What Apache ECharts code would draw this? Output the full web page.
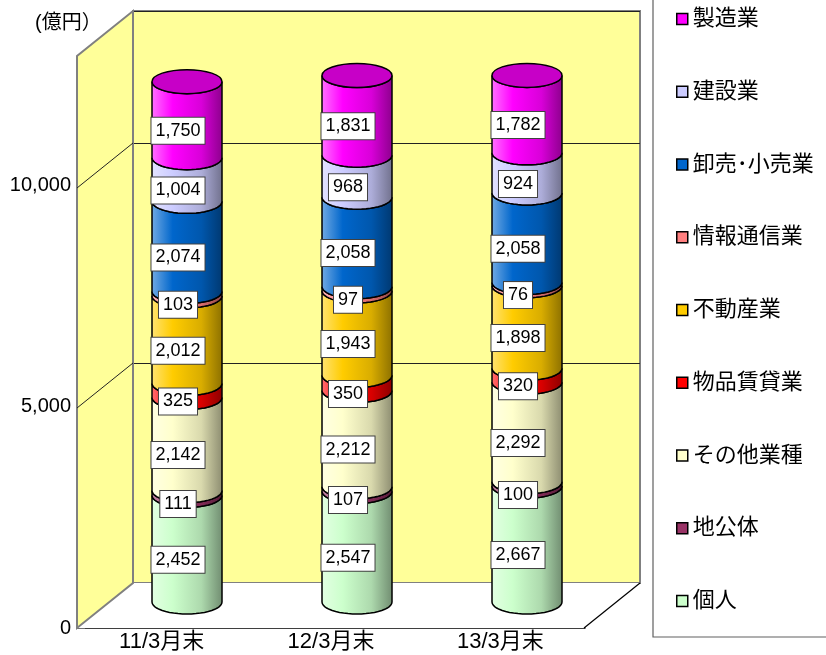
<!DOCTYPE html>
<html>
<head>
<meta charset="utf-8">
<script src="https://cdn.jsdelivr.net/npm/echarts@6/dist/echarts.min.js"></script>
<style>
  html, body { margin: 0; padding: 0; background: #fff; }
  #chart { width: 826px; height: 655px; }
</style>
</head>
<body>
<div id="chart"></div>
<script>
// 年度末ごとの貸出残高（億円）
var categories = ['11/3月末', '12/3月末', '13/3月末'];
var kojin    = [2452, 2547, 2667];   // 個人
var chikotai = [111, 107, 100];      // 地公体
var sonota   = [2142, 2212, 2292];   // その他業種
var buppin   = [325, 350, 320];      // 物品賃貸業
var fudosan  = [2012, 1943, 1898];   // 不動産業
var joho     = [103, 97, 76];        // 情報通信業
var oroshi   = [2074, 2058, 2058];   // 卸売・小売業
var kensetsu = [1004, 968, 924];     // 建設業
var seizo    = [1750, 1831, 1782];   // 製造業
var yTicks = [0, 5000, 10000];

// 下から積む順
var stackNames = ['個人', '地公体', 'その他業種', '物品賃貸業', '不動産業', '情報通信業', '卸売･小売業', '建設業', '製造業'];
var stackData = [kojin, chikotai, sonota, buppin, fudosan, joho, oroshi, kensetsu, seizo];
var stackColors = ['#ccffcc', '#993366', '#ffffcc', '#ff0000', '#ffcc00', '#ff8080', '#0066cc', '#ccccff', '#ff00ff'];

var FONT = '"Liberation Sans", Arial, "Noto Sans CJK JP", sans-serif';
var DX = -56, DY = 45;   // 奥行き
var RX = 35, RY = 12;

function mix(hex, t) {
  var n = parseInt(hex.slice(1), 16);
  var r = n >> 16, g = (n >> 8) & 255, b = n & 255;
  var to = t > 0 ? 255 : 0;
  var a = Math.abs(t);
  r = Math.round(r + (to - r) * a);
  g = Math.round(g + (to - g) * a);
  b = Math.round(b + (to - b) * a);
  return 'rgb(' + r + ',' + g + ',' + b + ')';
}

function fmt(v) {
  return v.toLocaleString('en-US');
}

var myChart = echarts.init(document.getElementById('chart'), null, { renderer: 'canvas' });

// 壁と床
var wallSeries = {
  type: 'custom',
  xAxisIndex: 0,
  yAxisIndex: 0,
  silent: true,
  z: 1,
  data: [[0, 0]],
  renderItem: function (params, api) {
    var cs = params.coordSys;
    var x0 = cs.x, x1 = cs.x + cs.width;
    var yTop = cs.y, yBot = cs.y + cs.height;
    var kids = [];
    kids.push({
      type: 'polygon',
      shape: { points: [[x0 + DX, yBot + DY], [x1 + DX, yBot + DY], [x1, yBot], [x0, yBot]] },
      style: { fill: '#fff', stroke: null }
    });
    kids.push({
      type: 'line',
      shape: { x1: x1 + DX, y1: yBot + DY, x2: x1, y2: yBot },
      style: { stroke: '#000', lineWidth: 1.2 }
    });
    kids.push({
      type: 'polygon',
      shape: { points: [[x0 + DX, yBot + DY], [x0 + DX, yTop + DY], [x0, yTop], [x0, yBot]] },
      style: { fill: '#ffff99', stroke: '#808080', lineWidth: 2 }
    });
    yTicks.forEach(function (v) {
      if (v === 0) return;
      var y = api.coord([0, v])[1];
      kids.push({
        type: 'line',
        shape: { x1: x0 + DX, y1: y + DY, x2: x0, y2: y },
        style: { stroke: '#222', lineWidth: 1 }
      });
    });
    return { type: 'group', children: kids };
  }
};

function makeCylinder(k) {
  var vals = stackData[k];
  var data = categories.map(function (c, i) {
    var lo = 0;
    for (var j = 0; j < k; j++) lo += stackData[j][i];
    return [i, lo, lo + vals[i], vals[i]];
  });
  var base = stackColors[k];
  var isTop = k === stackData.length - 1;
  return {
    name: stackNames[k],
    type: 'custom',
    xAxisIndex: 2,
    yAxisIndex: 2,
    z: 3,
    itemStyle: { color: base },
    encode: { x: 0, y: 2 },
    data: data,
    renderItem: function (params, api) {
      var i = api.value(0);
      var pLo = api.coord([i, api.value(1)]);
      var pHi = api.coord([i, api.value(2)]);
      var cx = pLo[0], yb = pLo[1], yt = pHi[1];
      var pts = [];
      var s;
      for (s = 0; s <= 24; s++) {
        var a = Math.PI - Math.PI * s / 24;
        pts.push([cx + RX * Math.cos(a), yt + RY * Math.sin(a)]);
      }
      for (s = 0; s <= 24; s++) {
        var b = Math.PI * s / 24;
        pts.push([cx + RX * Math.cos(b), yb + RY * Math.sin(b)]);
      }
      var grad = {
        type: 'linear', x: 0, y: 0, x2: 1, y2: 0,
        colorStops: [
          { offset: 0, color: mix(base, 0.45) },
          { offset: 0.3, color: base },
          { offset: 0.7, color: mix(base, -0.15) },
          { offset: 1, color: mix(base, -0.45) }
        ]
      };
      var kids = [{
        type: 'polygon',
        shape: { points: pts },
        style: { fill: grad, stroke: '#000', lineWidth: 1.5 }
      }];
      if (isTop) {
        kids.push({
          type: 'ellipse',
          shape: { cx: cx, cy: yt, rx: RX, ry: RY },
          style: { fill: mix(base, -0.22), stroke: '#000', lineWidth: 1.5 }
        });
      }
      kids.push({
        type: 'text',
        z2: 100,
        style: {
          text: fmt(api.value(3)),
          x: cx - 9,
          y: (yb + yt) / 2 + 11,
          align: 'center',
          verticalAlign: 'middle',
          font: '18px ' + FONT,
          fill: '#000',
          backgroundColor: '#fff',
          borderColor: '#404040',
          borderWidth: 1,
          padding: [5, 4, 3, 4]
        }
      });
      return { type: 'group', children: kids };
    }
  };
}

var series = [wallSeries];
for (var k = 0; k < stackData.length; k++) series.push(makeCylinder(k));

myChart.setOption({
  animation: false,
  color: stackColors,
  textStyle: { fontFamily: FONT },
  graphic: [{
    type: 'rect',
    z: 0,
    shape: { x: 653, y: -5, width: 190, height: 642 },
    style: { fill: '#fff', stroke: '#606060', lineWidth: 1.2 }
  }, {
    type: 'text',
    left: 35,
    top: 13,
    style: { text: '(億円）', font: '20px ' + FONT, fill: '#000' }
  }],
  legend: {
    orient: 'vertical',
    left: 676,
    top: 8,
    padding: 0,
    icon: 'rect',
    itemWidth: 11,
    itemHeight: 11,
    itemGap: 50.75,
    selectedMode: false,
    data: stackNames.slice().reverse(),
    itemStyle: { borderColor: '#000', borderWidth: 1.5 },
    textStyle: { fontSize: 22, color: '#000', lineHeight: 22, fontFamily: FONT }
  },
  grid: [
    // 奥の壁
    { left: 133, right: 186, top: 11, bottom: 72, show: true, backgroundColor: '#ffff99', borderColor: '#808080', borderWidth: 2 },
    // 手前の軸
    { left: 77, right: 241, top: 53, bottom: 27 },
    // 円柱
    { left: 102, right: 214, top: 37, bottom: 53 }
  ],
  xAxis: [
    { gridIndex: 0, type: 'category', data: categories, show: false },
    {
      gridIndex: 1, type: 'category', data: categories,
      axisLine: { lineStyle: { color: '#000', width: 1.5 } },
      axisTick: { inside: true, length: 8, lineStyle: { color: '#000' } },
      axisLabel: { fontSize: 22, color: '#000', margin: 3, fontFamily: FONT }
    },
    { gridIndex: 2, type: 'category', data: categories, show: false }
  ],
  yAxis: [
    {
      gridIndex: 0, type: 'value', min: 0, max: 13000, interval: 5000,
      axisLine: { show: false }, axisTick: { show: false }, axisLabel: { show: false },
      splitLine: { show: true, lineStyle: { color: '#222', width: 1 } }
    },
    {
      gridIndex: 1, type: 'value', min: 0, max: 13000, interval: 5000,
      axisLine: { show: false },
      axisTick: { show: true, inside: true, length: 8, customValues: yTicks, lineStyle: { color: '#808080', width: 1.5 } },
      axisLabel: {
        fontSize: 20, color: '#000', margin: 6, fontFamily: FONT, customValues: yTicks,
        formatter: function (v) { return fmt(v); }
      },
      splitLine: { show: false }
    },
    { gridIndex: 2, type: 'value', min: 0, max: 13000, show: false, splitLine: { show: false } }
  ],
  series: series
});
</script>
</body>
</html>
